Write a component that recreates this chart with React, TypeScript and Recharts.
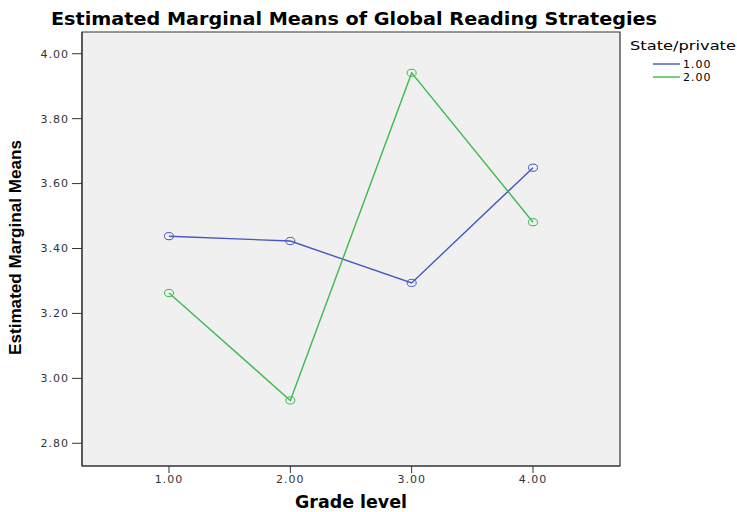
import { LineChart, Line, XAxis, YAxis, ReferenceArea } from 'recharts'

const grades = [1, 2, 3, 4]
const statePrivate1 = [3.438, 3.423, 3.294, 3.649]
const statePrivate2 = [3.263, 2.932, 3.941, 3.481]
const yTicks = [2.8, 3.0, 3.2, 3.4, 3.6, 3.8, 4.0]
const xTicks = [1, 2, 3, 4]

const series = [
  { key: 's1', label: '1.00', color: '#4658c0' },
  { key: 's2', label: '2.00', color: '#3dbb4c' },
]

const data = grades.map((g, i) => ({ grade: g, s1: statePrivate1[i], s2: statePrivate2[i] }))

const xDomain: [number, number] = [0.283, 4.717]
const yDomain: [number, number] = [2.73, 4.067]

const tickStyle = { fill: '#333', fontSize: 11, fontFamily: 'DejaVu Sans', letterSpacing: 1 }

function OpenDot(props: any) {
  const { cx, cy, stroke, index } = props
  if (cx == null || cy == null) return null
  return <ellipse key={index} cx={cx} cy={cy} rx={4.5} ry={3.6} fill="none" stroke={stroke} strokeWidth={1} />
}

function App() {
  return (
    <div style={{ position: 'absolute', left: 0, top: 0, width: 737, height: 512, background: '#fff' }}>
      <LineChart width={737} height={512} data={data} margin={{ top: 32, right: 117, bottom: 6, left: 12 }}>
        <ReferenceArea
          x1={xDomain[0]}
          x2={xDomain[1]}
          y1={yDomain[0]}
          y2={yDomain[1]}
          fill="#f0f0f0"
          fillOpacity={1}
          stroke="#333"
          strokeWidth={1.2}
          ifOverflow="visible"
        />
        <XAxis
          dataKey="grade"
          type="number"
          domain={xDomain}
          ticks={xTicks}
          allowDataOverflow
          height={40}
          tickSize={7}
          tickMargin={2}
          tickFormatter={(v: number) => v.toFixed(2)}
          tick={tickStyle}
          stroke="#333"
        />
        <YAxis
          type="number"
          domain={yDomain}
          ticks={yTicks}
          allowDataOverflow
          width={70}
          tickSize={10}
          tickMargin={3}
          tickFormatter={(v: number) => v.toFixed(2)}
          tick={tickStyle}
          stroke="#333"
        />
        {series.map((s) => (
          <Line
            key={s.key}
            dataKey={s.key}
            stroke={s.color}
            strokeWidth={1.4}
            dot={<OpenDot />}
            activeDot={false}
            isAnimationActive={false}
          />
        ))}
      </LineChart>
      <svg width={737} height={512} style={{ position: 'absolute', left: 0, top: 0, pointerEvents: 'none' }}>
        <text x={354} y={25} textAnchor="middle" fontFamily="DejaVu Sans" fontWeight="bold" fontSize={17} textLength={606} lengthAdjust="spacingAndGlyphs" fill="#000">
          Estimated Marginal Means of Global Reading Strategies
        </text>
        <text transform="translate(21,247.5) rotate(-90)" textAnchor="middle" fontFamily="Liberation Sans" fontWeight="bold" fontSize={17} textLength={215} lengthAdjust="spacingAndGlyphs" fill="#000">
          Estimated Marginal Means
        </text>
        <text x={351} y={508} textAnchor="middle" fontFamily="DejaVu Sans" fontWeight="bold" fontSize={18} textLength={112} lengthAdjust="spacingAndGlyphs" fill="#000">
          Grade level
        </text>
        <text x={630} y={50} fontFamily="DejaVu Sans" fontSize={13} textLength={106} lengthAdjust="spacingAndGlyphs" fill="#000">
          State/private
        </text>
        {series.map((s, i) => (
          <g key={s.key}>
            <line x1={653} x2={680} y1={64 + i * 13} y2={64 + i * 13} stroke={s.color} strokeOpacity={0.7} strokeWidth={2} />
            <text x={683} y={68 + i * 13} fontFamily="DejaVu Sans" fontSize={11} letterSpacing={1} fill="#000">
              {s.label}
            </text>
          </g>
        ))}
      </svg>
    </div>
  )
}

export default App
